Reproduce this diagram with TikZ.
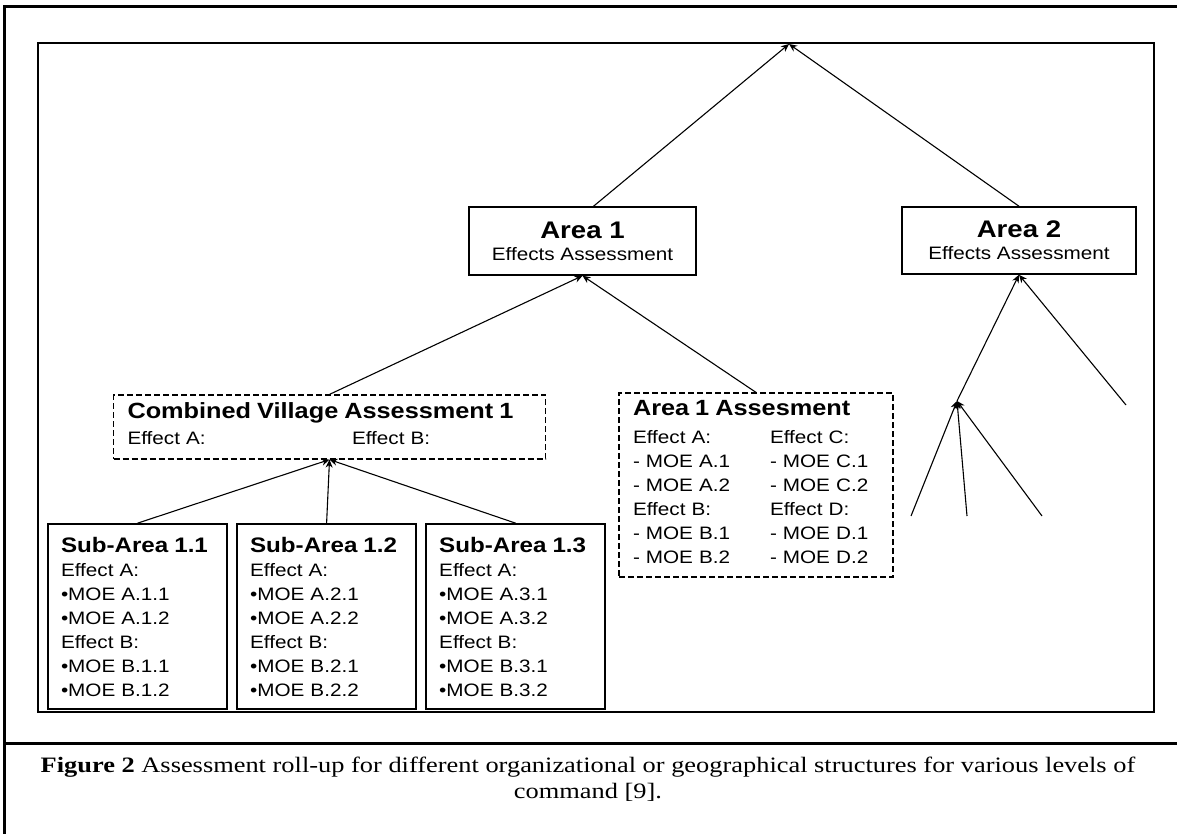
\documentclass[tikz,border=0pt]{standalone}
\usepackage{fontspec}
\setmainfont{Liberation Sans}[FakeStretch=1.15]
\newfontfamily\capfont{Liberation Serif}[FakeStretch=1.2]
\usetikzlibrary{positioning, arrows.meta}

\begin{document}
\begin{tikzpicture}[x=1pt, y=-1pt]
		\tikzset{
			>={Stealth[length=8pt, width=7pt]},
			box/.style={draw, line width=1.5pt, align=center, inner sep=0pt},
			dashbox/.style={draw, line width=1.2pt, dash pattern=on 6pt off 3pt, inner xsep=14pt, inner ysep=0pt, align=left},
			subbox/.style={draw, line width=1.6pt, inner xsep=13pt, inner ysep=0pt, text width=153pt, minimum height=185pt, align=left},
			link/.style={->, line width=1.1pt},
			every node/.style={font=\fontsize{18}{24}\selectfont}
		}
		\useasboundingbox (0,0) rectangle (1177,834);
		
		% Frames
		\draw[line width=3pt] (4,834) -- (4,7) -- (1177,7);
		\draw[line width=3pt] (4,743) -- (1177,743);
		\draw[line width=1.6pt] (38,43) rectangle (1154,712);
		
		% Top of the roll-up
		\coordinate (top) at (789,44);
		
		% Area nodes
		\node[box, minimum width=227pt, minimum height=68pt] (area1) at (582.5,241)
			{{\fontsize{24}{30}\selectfont\bfseries Area 1}\\[-2pt] Effects Assessment};
		\node[box, minimum width=234pt, minimum height=67pt] (area2) at (1019,240.5)
			{{\fontsize{24}{30}\selectfont\bfseries Area 2}\\[-2pt] Effects Assessment};
		
		% Combined village node
		\node[dashbox, text width=404pt, minimum height=64pt] (village) at (329.5,427)
			{\begin{tabular}{@{}p{224.5pt}@{}l@{}}
				\multicolumn{2}{@{}l@{}}{\fontsize{22}{26}\selectfont\bfseries Combined Village Assessment 1}\\[2pt]
				Effect A: & Effect B:
			\end{tabular}};
		
		% Area 1 assessment node
		\node[dashbox, text width=246pt, minimum height=184pt] (assess) at (756,485)
			{\begin{tabular}{@{}p{137pt}@{}l@{}}
				\multicolumn{2}{@{}l@{}}{\fontsize{22}{26}\selectfont\bfseries Area 1 Assesment}\\[4pt]
				Effect A: & Effect C:\\
				- MOE A.1 & - MOE C.1\\
				- MOE A.2 & - MOE C.2\\
				Effect B: & Effect D:\\
				- MOE B.1 & - MOE D.1\\
				- MOE B.2 & - MOE D.2
			\end{tabular}};
		
		% Sub-area nodes
		\node[subbox] (sub11) at (137.5,616.5)
			{\mbox{\fontsize{21}{26}\selectfont\bfseries Sub-Area 1.1}\\ Effect A:\\ \textbullet MOE A.1.1\\ \textbullet MOE A.1.2\\ Effect B:\\ \textbullet MOE B.1.1\\ \textbullet MOE B.1.2};
		\node[subbox, right=8.5pt of sub11] (sub12)
			{\mbox{\fontsize{21}{26}\selectfont\bfseries Sub-Area 1.2}\\ Effect A:\\ \textbullet MOE A.2.1\\ \textbullet MOE A.2.2\\ Effect B:\\ \textbullet MOE B.2.1\\ \textbullet MOE B.2.2};
		\node[subbox, right=8.5pt of sub12] (sub13)
			{\mbox{\fontsize{21}{26}\selectfont\bfseries Sub-Area 1.3}\\ Effect A:\\ \textbullet MOE A.3.1\\ \textbullet MOE A.3.2\\ Effect B:\\ \textbullet MOE B.3.1\\ \textbullet MOE B.3.2};
		
		% Open branches under Area 2
		\coordinate (hub) at (957,401);
		\coordinate (end1) at (1126,405);
		\coordinate (leaf1) at (911,516);
		\coordinate (leaf2) at (967,516);
		\coordinate (leaf3) at (1042,516);
		
		% Draw arrows between nodes
		\draw[link] ([xshift=11pt]area1.north) -- (top);
		\draw[link] (area2.north) -- (top);
		
		\draw[link] (village.north) -- (area1.south);
		\draw[link] (assess.north) -- (area1.south);
		
		\draw[link] (sub11.north) -- (village.south);
		\draw[link] (sub12.north) -- (village.south);
		\draw[link] (sub13.north) -- (village.south);
		
		\draw[link] (hub) -- (area2.south);
		\draw[link] (end1) -- (area2.south);
		\draw[link] (leaf1) -- (hub);
		\draw[link] (leaf2) -- (hub);
		\draw[link] (leaf3) -- (hub);
		
		% Caption
		\node[font=\capfont\fontsize{22}{26}\selectfont, align=center] (caption) at (588,779)
			{\textbf{Figure 2} Assessment roll-up for different organizational or geographical structures for various levels of\\ command [9].};
		
	\end{tikzpicture}
\end{document}
